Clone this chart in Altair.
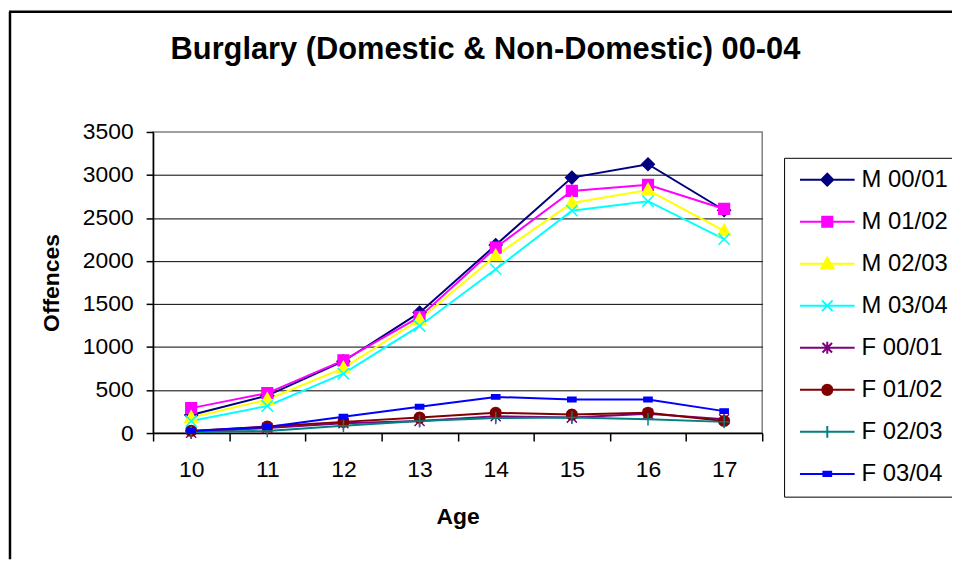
import altair as alt
import pandas as pd

# ---------------- data ----------------
ages = [10, 11, 12, 13, 14, 15, 16, 17]
series_names = ["M 00/01", "M 01/02", "M 02/03", "M 03/04",
                "F 00/01", "F 01/02", "F 02/03", "F 03/04"]
m_00_01 = [210, 435, 835, 1400, 2185, 2970, 3125, 2590]
m_01_02 = [290, 465, 845, 1350, 2155, 2815, 2885, 2605]
m_02_03 = [180, 390, 755, 1320, 2060, 2675, 2825, 2350]
m_03_04 = [140, 315, 690, 1245, 1905, 2585, 2695, 2255]
f_00_01 = [5, 60, 115, 140, 195, 180, 225, 160]
f_01_02 = [25, 75, 130, 180, 235, 215, 235, 140]
f_02_03 = [10, 25, 85, 140, 175, 180, 160, 130]
f_03_04 = [25, 70, 190, 305, 420, 390, 390, 255]
all_series = [m_00_01, m_01_02, m_02_03, m_03_04, f_00_01, f_01_02, f_02_03, f_03_04]

# ---------------- styles ----------------
colors = ["#000080", "#FF00FF", "#FFFF00", "#00FFFF",
          "#800080", "#800000", "#008080", "#0000FF"]

# marker outlines in units (1 unit = 6 px at size 144)
marker_defs = {
    "diamond": [([(0, -1), (1, 0), (0, 1), (-1, 0)], True)],
    "square": [([(-0.85, -0.85), (0.85, -0.85), (0.85, 0.85), (-0.85, 0.85)], True)],
    "triangle": [([(0, -1.05), (1, 0.75), (-1, 0.75)], True)],
    "x": [([(-0.9, -0.9), (0.9, 0.9)], False), ([(-0.9, 0.9), (0.9, -0.9)], False)],
    "asterisk": [([(-0.8, -0.8), (0.8, 0.8)], False), ([(-0.8, 0.8), (0.8, -0.8)], False),
                 ([(0, -1), (0, 1)], False)],
    "circle": [([(0.85, 0), (0.74, 0.43), (0.43, 0.74), (0, 0.85), (-0.43, 0.74), (-0.74, 0.43),
                 (-0.85, 0), (-0.74, -0.43), (-0.43, -0.74), (0, -0.85), (0.43, -0.74),
                 (0.74, -0.43)], True)],
    "plus": [([(-0.9, 0), (0.9, 0)], False), ([(0, -1), (0, 1)], False)],
    "dash": [([(-0.65, -0.35), (0.65, -0.35), (0.65, 0.35), (-0.65, 0.35)], True)],
}
marker_order = ["diamond", "square", "triangle", "x", "asterisk", "circle", "plus", "dash"]


def to_path(shape, dx=0.0, line=None):
    parts = []
    if line is not None:
        parts.append(f"M{line[0]:.3f},0L{line[1]:.3f},0")
    for pts, closed in marker_defs[shape]:
        seg = "M" + "L".join(f"{x + dx:.3f},{y:.3f}" for x, y in pts)
        if closed:
            seg += "Z"
        parts.append(seg)
    return "".join(parts)


marker_paths = [to_path(s) for s in marker_order]
# legend symbol: line 55 px long with the marker in its middle
legend_paths = [to_path(s, dx=3.58, line=(-1.0, 8.17)) for s in marker_order]

rows = []
for name, vals in zip(series_names, all_series):
    for a, v in zip(ages, vals):
        rows.append({"Age": a, "Series": name, "Offences": v})
df = pd.DataFrame(rows)

FONT = "Liberation Sans"
W, H = 613, 303

x_enc = alt.X(
    "Age:O",
    scale=alt.Scale(type="band", paddingInner=0, paddingOuter=0),
    axis=alt.Axis(
        tickBand="extent", tickSize=8, tickColor="black", domainColor="black",
        domainWidth=1.5, tickWidth=1.5, labelAngle=0, labelFontSize=23,
        labelFont=FONT, labelColor="black", labelBaseline="middle", labelPadding=29,
        grid=False, title="Age", titleFont=FONT, titleFontSize=23,
        titleFontWeight="bold", titleColor="black", titleX=W / 2, titleY=84,
        titleAlign="center", titleBaseline="middle",
    ),
)
y_enc = alt.Y(
    "Offences:Q",
    scale=alt.Scale(domain=[0, 3500], nice=False),
    axis=alt.Axis(
        values=[0, 500, 1000, 1500, 2000, 2500, 3000, 3500], format="d",
        tickSize=7, tickColor="black", tickWidth=1.5, domainColor="black",
        domainWidth=1.5, labelFontSize=23, labelFont=FONT, labelColor="black",
        labelPadding=13, grid=True, gridColor="black", gridWidth=1,
        gridOpacity={"condition": {"test": "datum.value >= 3500", "value": 0}, "value": 1},
        title="Offences", titleFont=FONT, titleFontSize=23, titleFontWeight="bold",
        titleColor="black", titleX=-102, titleY=H / 2, titleAngle=-90,
        titleAlign="center", titleBaseline="middle",
    ),
)

color_scale = alt.Scale(domain=series_names, range=colors)

lines = alt.Chart(df).mark_line(strokeWidth=2).encode(
    x=x_enc, y=y_enc,
    color=alt.Color("Series:N", scale=color_scale, legend=None, sort=series_names),
)

points = alt.Chart(df).mark_point(filled=True, size=160, strokeWidth=1.5, opacity=1).encode(
    x=x_enc, y=y_enc,
    color=alt.Color("Series:N", scale=color_scale, legend=None, sort=series_names),
    stroke=alt.Stroke("Series:N", scale=color_scale, legend=None, sort=series_names),
    shape=alt.Shape("Series:N", scale=alt.Scale(domain=series_names, range=marker_paths),
                    legend=None, sort=series_names),
)

legend_cfg = dict(
    title=None, orient="none", legendX=635, legendY=26, padding=10,
    symbolSize=144, symbolStrokeWidth=2, symbolOpacity=1, labelOffset=44,
    labelFontSize=24, labelFont=FONT, labelColor="black", rowPadding=18.3,
    strokeColor="black", fillColor="white", symbolOffset=0,
)

legend_layer = alt.Chart(df).transform_filter("false").mark_point(
    filled=True, size=144, strokeWidth=2, opacity=1
).encode(
    color=alt.Color("Series:N", scale=color_scale, sort=series_names,
                    legend=alt.Legend(**legend_cfg)),
    stroke=alt.Stroke("Series:N", scale=color_scale, sort=series_names,
                      legend=alt.Legend(**legend_cfg)),
    shape=alt.Shape("Series:N", scale=alt.Scale(domain=series_names, range=legend_paths),
                    sort=series_names, legend=alt.Legend(**legend_cfg)),
)

one = pd.DataFrame({"k": [0]})
frame_left = alt.Chart(one).mark_rule(color="black", strokeWidth=2.5).encode(
    x=alt.value(-144), y=alt.value(-121), y2=alt.value(430))
frame_top = alt.Chart(one).mark_rule(color="black", strokeWidth=2.5).encode(
    x=alt.value(-145), x2=alt.value(820), y=alt.value(-121))

chart = alt.layer(frame_left, frame_top, lines, points, legend_layer).resolve_scale(
    color="independent", stroke="independent", shape="independent"
).properties(
    width=W, height=H,
    title=alt.TitleParams(
        "Burglary (Domestic & Non-Domestic) 00-04", font=FONT, fontSize=31,
        fontWeight="bold", color="black", anchor="middle", frame="group",
        dx=28, dy=80, offset=0, baseline="alphabetic",
    ),
    padding={"left": 146, "top": 123, "right": 191, "bottom": 127},
    autosize=alt.AutoSizeParams(type="none"),
    background="white",
).configure_view(fill="#C0C0C0", stroke="#808080", strokeWidth=1.5)

chart.save("out.html", embed_options={"renderer": "svg", "actions": False})
